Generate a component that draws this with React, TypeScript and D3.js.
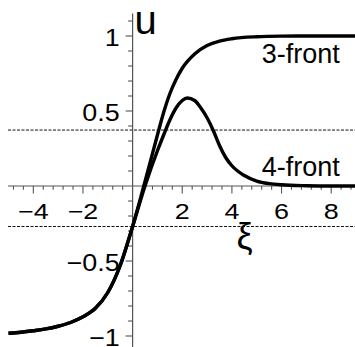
import React from "react";
import * as d3 from "d3";

// Travelling-front profiles u(ξ)
const xi3 = [-5, -4.5, -4, -3.5, -3, -2.5, -2, -1.5, -1, -0.5, 0, 0.5, 1, 1.25, 1.5, 1.75, 2, 2.5, 3, 3.5, 4, 5, 6, 7, 8, 9];
const u3 = [-0.982, -0.975, -0.965, -0.953, -0.935, -0.91, -0.872, -0.815, -0.71, -0.53, -0.27, 0.03, 0.34, 0.49, 0.615, 0.71, 0.785, 0.88, 0.936, 0.966, 0.982, 0.995, 0.999, 1, 1, 1];

const xi4 = [-5, -4.5, -4, -3.5, -3, -2.5, -2, -1.5, -1, -0.5, 0, 0.5, 1, 1.25, 1.5, 1.75, 2, 2.2, 2.5, 2.75, 3, 3.25, 3.5, 3.75, 4, 4.5, 5, 5.5, 6, 7, 8, 9];
const u4 = [-0.982, -0.975, -0.965, -0.953, -0.935, -0.91, -0.872, -0.815, -0.71, -0.53, -0.27, 0.0, 0.235, 0.34, 0.44, 0.52, 0.57, 0.587, 0.57, 0.52, 0.455, 0.37, 0.27, 0.19, 0.135, 0.07, 0.033, 0.016, 0.008, 0.002, 0, 0];

// Reference levels (dashed)
const levels = [0.373, -0.27];

// Axis ticks
const xMajor = [-4, -2, 2, 4, 6, 8];
const xMinorStep = 0.4;
const yMajor = [1, 0.5, -0.5, -1];
const yMajorLabels = ["1", "0.5", "\u22120.5", "\u22121"];
const yMinorStep = 0.1;

const seriesLabels = [
  { text: "3-front", xi: 5.2, u: 0.82 },
  { text: "4-front", xi: 5.2, u: 0.07 },
];

const W = 355;
const H = 347;
const FONT = "'Liberation Sans', Arial, Helvetica, sans-serif";

export default function App() {
  const x = d3.scaleLinear().domain([-5, 9]).range([8.5, 356]);
  const y = d3.scaleLinear().domain([-1, 1]).range([336, 36]);

  const line = d3
    .line<[number, number]>()
    .x((d) => x(d[0]))
    .y((d) => y(d[1]))
    .curve(d3.curveMonotoneX);

  const d3front = line(xi3.map((v, i) => [v, u3[i]] as [number, number])) || "";
  const d4front = line(xi4.map((v, i) => [v, u4[i]] as [number, number])) || "";

  const x0 = x(0);
  const y0 = y(0);
  const yTop = y(1.15);
  const yBottom = H;

  const xMinor = d3.range(-4.8, 9.01, xMinorStep).filter((v) => Math.abs(v) > 1e-6);
  const yMinor = d3.range(-1.0, 1.151, yMinorStep).filter((v) => Math.abs(v) > 1e-6);

  const axisColor = "#555";

  return (
    <svg
      width={W}
      height={H}
      style={{ position: "absolute", left: 0, top: 0, background: "#fff" }}
      fontFamily={FONT}
    >
      {/* dashed reference levels */}
      {levels.map((lv, i) => (
        <line
          key={"lv" + i}
          x1={8}
          x2={W}
          y1={y(lv)}
          y2={y(lv)}
          stroke="#111"
          strokeWidth={1}
          strokeDasharray="3,1.5"
        />
      ))}

      {/* axes */}
      <line x1={8} x2={W} y1={y0} y2={y0} stroke={axisColor} strokeWidth={1.2} />
      <line x1={x0} x2={x0} y1={yTop} y2={yBottom} stroke={axisColor} strokeWidth={1.2} />

      {/* x ticks */}
      {xMinor.map((v, i) => {
        const major = xMajor.some((m) => Math.abs(m - v) < 1e-6);
        return (
          <line
            key={"xt" + i}
            x1={x(v)}
            x2={x(v)}
            y1={y0}
            y2={y0 + (major ? 7.5 : 3.7)}
            stroke={axisColor}
            strokeWidth={1.1}
          />
        );
      })}
      {/* y ticks */}
      {yMinor.map((v, i) => {
        const major = yMajor.some((m) => Math.abs(m - v) < 1e-6);
        return (
          <line
            key={"yt" + i}
            x1={x0}
            x2={x0 - (major ? 7 : 4.5)}
            y1={y(v)}
            y2={y(v)}
            stroke={axisColor}
            strokeWidth={1.1}
          />
        );
      })}

      {/* x tick labels */}
      {xMajor.map((v) => (
        <text
          key={"xl" + v}
          transform={`translate(${x(v)},${y0 + 33}) scale(1.25,1)`}
          textAnchor="middle"
          fontSize={21.5}
          fill="#000"
        >
          {v < 0 ? "\u2212" + Math.abs(v) : String(v)}
        </text>
      ))}

      {/* y tick labels */}
      {yMajor.map((v, i) => (
        <text
          key={"yl" + v}
          transform={`translate(${x0 - 13},${y(v) + 10}) scale(1.12,1)`}
          textAnchor="end"
          fontSize={24}
          fill="#000"
        >
          {yMajorLabels[i]}
        </text>
      ))}

      {/* curves */}
      <path d={d3front} fill="none" stroke="#000" strokeWidth={3.4} strokeLinejoin="round" />
      <path d={d4front} fill="none" stroke="#000" strokeWidth={3.4} strokeLinejoin="round" />

      {/* series labels */}
      {seriesLabels.map((s) => (
        <text key={s.text} x={x(s.xi)} y={y(s.u)} fontSize={27} fill="#000">
          {s.text}
        </text>
      ))}

      {/* axis titles */}
      <text x={x0 + 2} y={33.5} fontSize={40} fill="#000">
        u
      </text>
      <text x={244.5} y={248.5} fontSize={36} textAnchor="middle" fill="#000">
        ξ
      </text>
    </svg>
  );
}
